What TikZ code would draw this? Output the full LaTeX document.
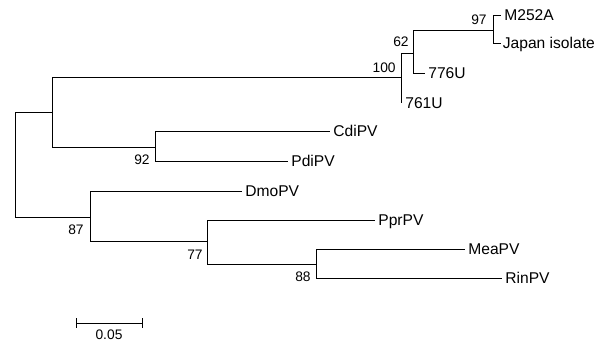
\documentclass[tikz,border=0pt]{standalone}
\usepackage{fontspec}
\setmainfont{Liberation Sans}
\begin{document}
\begin{tikzpicture}[x=1pt,y=-1pt,line width=0.75pt,
  leaf/.style={anchor=west,inner sep=0pt,inner xsep=3pt,font=\fontsize{15.6}{18}\selectfont,text height=11.1pt,text depth=0pt},
  boot/.style={anchor=east,inner sep=0pt,font=\fontsize{13.8}{16}\selectfont,text height=9.9pt,text depth=0pt},
  branch/.style={draw=black}]
\useasboundingbox (0,0) rectangle (595,344);
% internal nodes
\coordinate (root) at (15,164);
\coordinate (nA) at (52,112);
\coordinate (n100) at (401,77);
\coordinate (n62) at (413,53);
\coordinate (n97) at (493,30);
\coordinate (n92) at (155,147);
\coordinate (n87) at (90,217);
\coordinate (n77) at (207,241);
\coordinate (n88) at (316,264);
% leaves
\node[leaf] (M252A) at (501,15) {M252A};
\node[leaf,inner xsep=1.5pt] (Japan) at (501,43) {Japan isolate};
\node[leaf] (U776) at (425,73) {776U};
\coordinate (e761) at (401,103);
\node[leaf,inner xsep=0pt] (U761) at (405,103) {761U};
\node[leaf] (CdiPV) at (330,131) {CdiPV};
\node[leaf] (PdiPV) at (288,161) {PdiPV};
\node[leaf] (DmoPV) at (242,191) {DmoPV};
\node[leaf] (PprPV) at (375,220) {PprPV};
\node[leaf] (MeaPV) at (465,249) {MeaPV};
\node[leaf] (RinPV) at (502,278) {RinPV};
% branches
\draw[branch] (root) |- (nA);
\draw[branch] (root) |- (n87);
\draw[branch] (nA) |- (n100);
\draw[branch] (nA) |- (n92);
\draw[branch] (n100) |- (n62);
\draw[branch] (n100) -- (e761);
\draw[branch] (n62) |- (n97);
\draw[branch] (n62) |- (U776.west);
\draw[branch] (n97) |- (M252A.west);
\draw[branch] (n97) |- (Japan.west);
\draw[branch] (n92) |- (CdiPV.west);
\draw[branch] (n92) |- (PdiPV.west);
\draw[branch] (n87) |- (DmoPV.west);
\draw[branch] (n87) |- (n77);
\draw[branch] (n77) |- (PprPV.west);
\draw[branch] (n77) |- (n88);
\draw[branch] (n88) |- (MeaPV.west);
\draw[branch] (n88) |- (RinPV.west);
% bootstrap values
\node[boot] (b97) at (487,20) {97};
\node[boot] (b62) at (409,42) {62};
\node[boot] (b100) at (396,67.5) {100};
\node[boot] (b92) at (150,160) {92};
\node[boot] (b87) at (84,230) {87};
\node[boot] (b77) at (203,255) {77};
\node[boot] (b88) at (311,277) {88};
% scale bar
\coordinate (s1) at (76,323);
\coordinate (s2) at (142,323);
\draw[branch] (s1) -- (s2);
\draw[branch] ([yshift=-5pt]s1) -- ([yshift=5pt]s1);
\draw[branch] ([yshift=-5pt]s2) -- ([yshift=5pt]s2);
\node[boot,anchor=center] (scale) at (109,335) {0.05};
\end{tikzpicture}
\end{document}
